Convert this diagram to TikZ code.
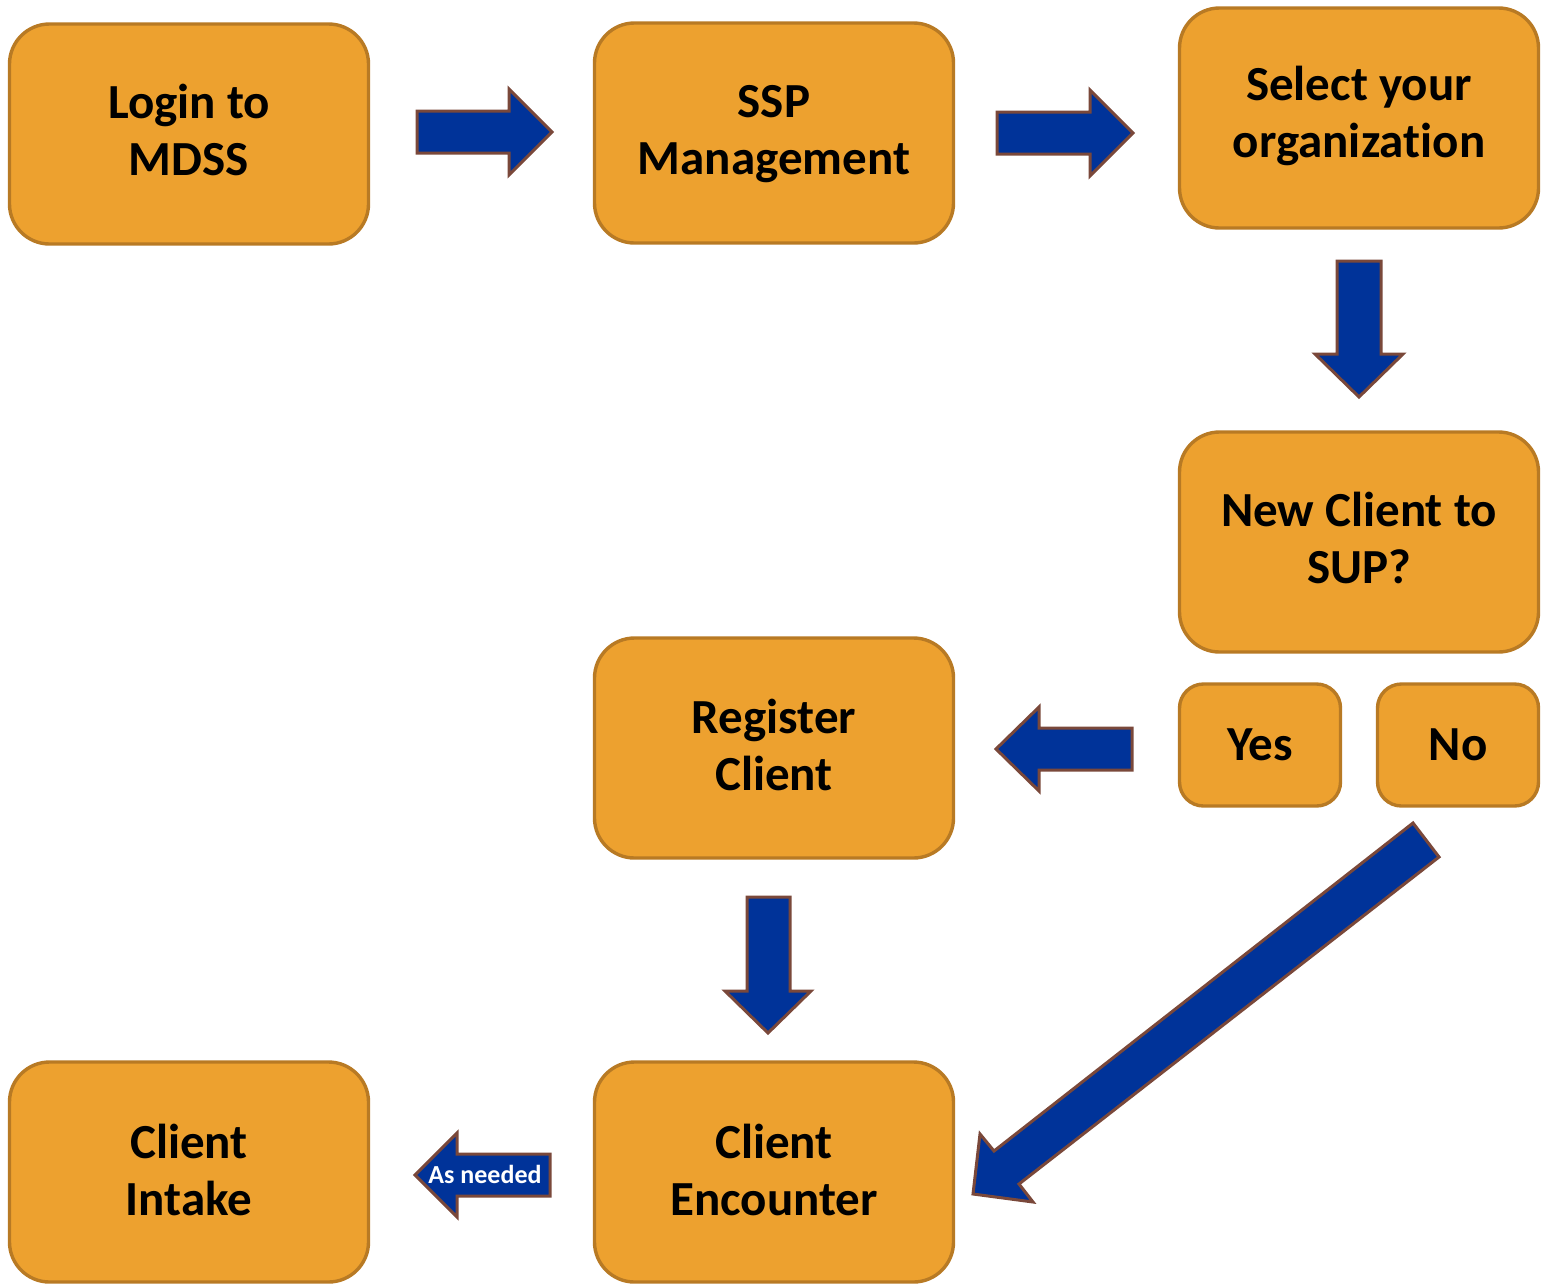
\documentclass[tikz,border=0pt]{standalone}
\usepackage{fontspec}
\setmainfont{Carlito}[Ligatures=NoCommon]
\definecolor{boxfill}{RGB}{237,161,47}
\definecolor{boxline}{RGB}{184,122,36}
\definecolor{arrfill}{RGB}{0,51,153}
\definecolor{arrline}{RGB}{122,72,58}
\begin{document}
\begin{tikzpicture}[x=1pt,y=-1pt,
  box/.style={draw=boxline,fill=boxfill,line width=3.4pt,rounded corners=40pt,
    minimum width=359pt,minimum height=220pt,align=center,inner sep=0pt,
    font=\bfseries\fontsize{49}{57}\selectfont},
  smallbox/.style={box,rounded corners=24pt,minimum width=161pt,minimum height=122pt},
  lbl/.style={inner sep=0pt,align=center,font=\bfseries\fontsize{49}{57}\selectfont},
  blockarrow/.style={draw=arrline,fill=arrfill,line width=3pt,line join=miter}]
\useasboundingbox (0,0) rectangle (1554,1285);
% boxes
\node[box] (login) at (189,134) {};
\node[box] (ssp) at (774,133) {};
\node[box] (select) at (1359,118) {};
\node[box] (newc) at (1359,542) {};
\node[box] (reg) at (774,748) {};
\node[smallbox] (yes) at (1260,745) {};
\node[smallbox] (no) at (1458,745) {};
\node[box] (enc) at (774,1172) {};
\node[box] (intake) at (189,1172) {};
% labels
\node[lbl] at ([yshift=4pt]login.center) {Login to\\MDSS};
\node[lbl] at ([yshift=-1pt]ssp.center) {SSP\\Management};
\node[lbl] at ([yshift=2pt]select.center) {Select your\\organization};
\node[lbl] at ([yshift=4pt]newc.center) {New Client to\\SUP?};
\node[lbl] at ([yshift=3pt]reg.center) {Register\\Client};
\node[lbl] at (yes.center) {Yes};
\node[lbl] at (no.center) {No};
\node[lbl] at ([yshift=2pt]enc.center) {Client\\Encounter};
\node[lbl] at ([yshift=2pt]intake.center) {Client\\Intake};
% arrows
\filldraw[blockarrow] (417,111) -- (509,111) -- (509,89) -- (552,132) -- (509,175) -- (509,153) -- (417,153) -- cycle;
\filldraw[blockarrow] (997,112) -- (1090,112) -- (1090,90) -- (1133,133) -- (1090,176) -- (1090,154) -- (997,154) -- cycle;
\filldraw[blockarrow] (1337,261) -- (1381,261) -- (1381,354) -- (1403,354) -- (1359,397) -- (1315,354) -- (1337,354) -- cycle;
\filldraw[blockarrow] (1132,728) -- (1039,728) -- (1039,707) -- (996,749) -- (1039,791) -- (1039,770) -- (1132,770) -- cycle;
\filldraw[blockarrow] (747,897) -- (790,897) -- (790,991) -- (811,991) -- (768,1033) -- (725,991) -- (747,991) -- cycle;
\filldraw[blockarrow] (1413,823) -- (1439,857) -- (1019,1184) -- (1033,1202) -- (973,1194) -- (980,1134) -- (994,1151) -- cycle;
\filldraw[blockarrow] (550,1154) -- (457,1154) -- (457,1133) -- (415,1175) -- (457,1217) -- (457,1196) -- (550,1196) -- cycle;
\node[text=white,font=\bfseries\fontsize{26}{30}\selectfont,inner sep=0pt] (asn) at (485,1174) {As needed};
\end{tikzpicture}
\end{document}
